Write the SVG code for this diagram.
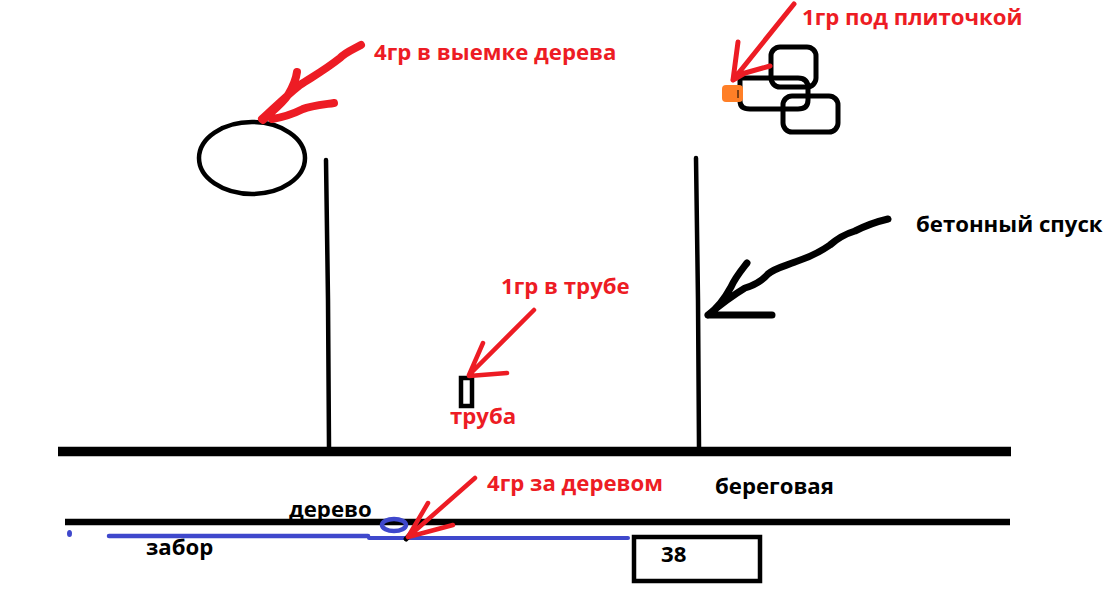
<svg xmlns="http://www.w3.org/2000/svg" width="1106" height="591" viewBox="0 0 1106 591">
<style>
.k{fill:none;stroke:#000;stroke-linecap:round;stroke-linejoin:round}
.r{fill:none;stroke:#ed1c24;stroke-linecap:round;stroke-linejoin:round}
.b{fill:none;stroke:#3f48cc;stroke-linecap:round;stroke-linejoin:round}
text{font-family:"Open Sans","Noto Sans","DejaVu Sans",sans-serif;font-weight:700;font-size:22.200px}
.tr{fill:#ed1c24}
</style>
<rect width="1106" height="591" fill="#fff"/>
<g id="roads">
<path d="M58 451.500H1011" stroke="#000" stroke-width="9.500" fill="none"/>
<path d="M65 522H1010" stroke="#000" stroke-width="6.500" fill="none"/>
<path class="k" stroke-width="4.500" d="M326 160L328 300L329 447"/>
<path class="k" stroke-width="4.500" d="M696 158L698 300L699 447"/>
</g>
<g id="tree-circle"><ellipse class="k" cx="252" cy="158" rx="53" ry="36" stroke-width="4.500"/></g>
<g id="tiles">
<path class="k" stroke-width="5" d="M741 78H798Q808 78 808 88V100Q808 109 798 109H750Q740 109 740 101V78"/>
<rect class="k" x="771" y="47" width="45" height="40" rx="9" stroke-width="5"/>
<rect class="k" x="783" y="96" width="55" height="36" rx="9" stroke-width="5"/>
<rect x="722" y="85" width="21" height="17" rx="4" fill="#ff7f27"/>
<path d="M738 90V98" stroke="#000" stroke-width="1"/>
</g>
<g id="pipe"><rect x="461" y="378" width="11" height="28" fill="none" stroke="#000" stroke-width="4.500"/></g>
<g id="fence">
<path class="b" stroke-width="4.500" d="M109 536H368"/>
<path class="b" stroke-width="4" d="M369 538H628"/>
<ellipse class="b" cx="394" cy="525" rx="12" ry="6" stroke-width="4.500"/>
<ellipse cx="69.500" cy="533.500" rx="2.500" ry="3.500" fill="#3f48cc"/>
</g>
<g id="tree-mark"><path class="k" stroke-width="5" d="M406 539L417 527"/></g>
<g id="house"><rect x="634" y="537" width="126" height="44" fill="none" stroke="#000" stroke-width="4.500"/></g>
<g id="connectors">
<path class="r" stroke-width="8" d="M361 45C352 50 346 52 340 58C325 70 312 77 300 85C285 97 272 110 262 119M297 72C296 80 291 90 288 95C282 104 270 113 263 120M334 103C320 105 310 106 303 109C295 113 285 117 272 119"/>
<path class="r" stroke-width="5" d="M794 4L733 80M738 42L733 80M770 66L745 73L733 80"/>
<path class="r" stroke-width="4.500" d="M534 310L469 375M483 343L469 375M507 373L469 376"/>
<path class="r" stroke-width="4.500" d="M475 478L408 537M428 503L408 537M453 525L408 537"/>
<path class="k" stroke-width="7" d="M888 219C875 222 865 226 855 231C845 234 838 238 830 245C820 252 810 257 795 262C785 266 775 268 768 274C762 281 755 285 745 288C735 294 720 305 708 315M747 263C740 272 735 278 731 287C725 298 718 308 708 315M708 315H772"/>
</g>
<g id="labels">
<text class="tr" x="374" y="60">4гр в выемке дерева</text>
<text class="tr" x="802" y="25">1гр под плиточкой</text>
<text x="916" y="232">бетонный спуск</text>
<text class="tr" x="501" y="294">1гр в трубе</text>
<text class="tr" x="450" y="424">труба</text>
<text class="tr" x="487" y="491">4гр за деревом</text>
<text x="715" y="494">береговая</text>
<text x="289" y="517">дерево</text>
<text x="146" y="555">забор</text>
<text x="661" y="562">38</text>
</g>
</svg>
